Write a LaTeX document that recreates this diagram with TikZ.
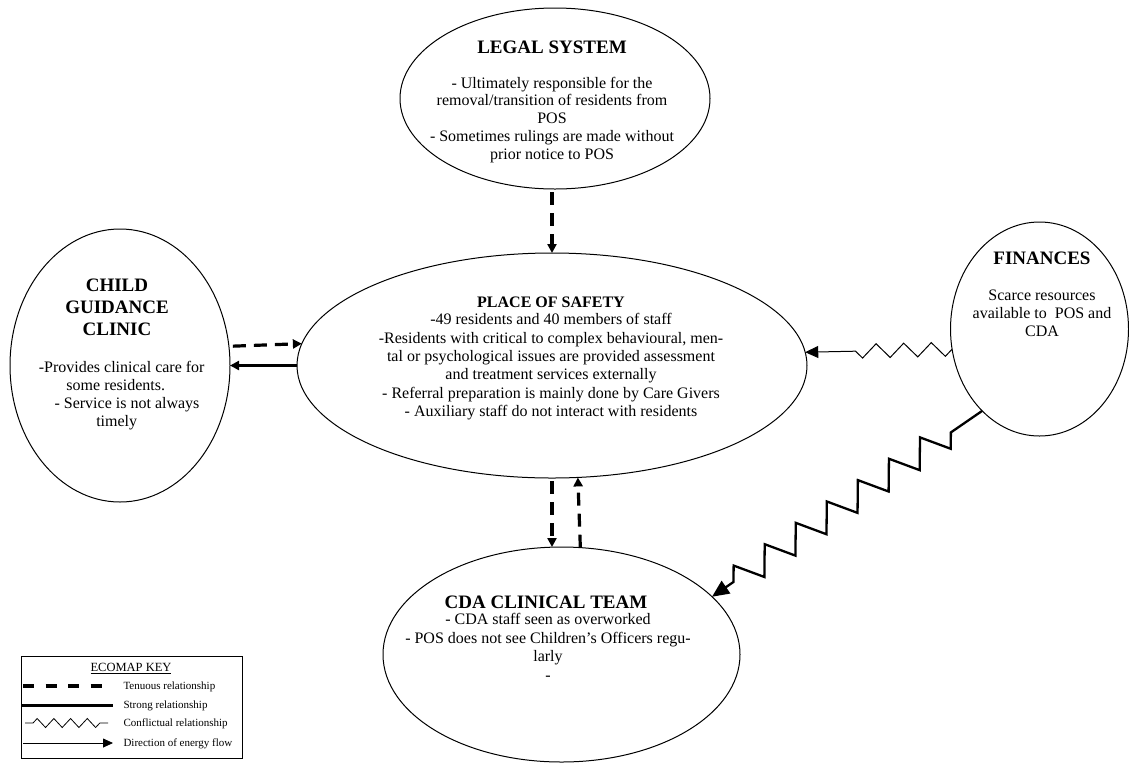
\documentclass[tikz,border=0pt]{standalone}
\usepackage{fontspec}
\setmainfont{Liberation Serif}
\usetikzlibrary{shapes.geometric,decorations.pathmorphing,arrows.meta}
\begin{document}
\begin{tikzpicture}[x=1pt,y=-1pt,
  ell/.style={draw, ellipse, line width=1pt, inner sep=0pt, outer sep=0pt},
  ttl/.style={font=\fontsize{19}{22.3}\selectfont\bfseries, inner sep=0pt, align=center},
  ttlsmall/.style={font=\fontsize{16}{18.4}\selectfont\bfseries, inner sep=0pt, align=center},
  body/.style={font=\fontsize{16}{18.3}\selectfont, inner sep=0pt, align=center},
  tenuous/.style={line width=3.2pt, dash pattern=on 13pt off 8pt, -{Triangle[length=9pt,width=9pt]}},
  strong/.style={line width=2.8pt, -{Triangle[length=9pt,width=9pt]}},
  confthin/.style={line width=1pt, decorate, decoration={zigzag, segment length=27.6pt, amplitude=7pt, pre=lineto, pre length=0pt, post=lineto, post length=37pt}, -{Triangle[length=13pt,width=12pt]}},
  confthick/.style={line width=2.3pt, decorate, decoration={zigzag, segment length=37.7pt, amplitude=13.4pt, pre=lineto, pre length=38pt, post=lineto, post length=25pt}, -{Triangle[length=17pt,width=15pt]}},
  keybox/.style={draw, line width=0.8pt, inner sep=0pt},
  keytext/.style={font=\fontsize{11}{13}\selectfont, inner sep=0pt, anchor=base west},
  keytenuous/.style={line width=3.5pt, dash pattern=on 11pt off 11.5pt},
  keystrong/.style={line width=3pt},
  keyconf/.style={line width=0.8pt, decorate, decoration={zigzag, segment length=16.7pt, amplitude=4.5pt, pre=lineto, pre length=8pt}},
  keyflow/.style={line width=0.8pt, -{Triangle[length=10pt,width=9pt]}}
]
\useasboundingbox (0,0) rectangle (1129,764);

% ellipses
\node[ell, minimum width=310pt, minimum height=181pt] (legal) at (555,98.5) {};
\node[ell, minimum width=510pt, minimum height=225pt] (pos) at (552,365.5) {};
\node[ell, minimum width=220pt, minimum height=273pt] (cgc) at (120,365.5) {};
\node[ell, minimum width=178pt, minimum height=214pt] (fin) at (1039.5,329) {};
\node[ell, minimum width=357pt, minimum height=215pt] (cda) at (561.5,654.5) {};

% texts (base anchor = baseline of the last line)
\node[ttl, anchor=base] (legalT) at (552,53) {LEGAL SYSTEM};
\node[body, anchor=base, font=\fontsize{16}{17.9}\selectfont] (legalB) at (552,159.6) {- Ultimately responsible for the\\removal/transition of residents from\\POS\\- Sometimes rulings are made without\\prior notice to POS};

\node[ttlsmall, anchor=base] (posT) at (551,307.6) {PLACE OF SAFETY};
\node[body, anchor=base, font=\fontsize{16}{18.4}\selectfont] (posB) at (551,416.6) {-49 residents and 40 members of staff\\-Residents with critical to complex behavioural, men-\\tal or psychological issues are provided assessment\\and treatment services externally\\- Referral preparation is mainly done by Care Givers\\- Auxiliary staff do not interact with residents};

\node[ttl, anchor=base] (cgcT) at (117,335.9) {CHILD\\GUIDANCE\\CLINIC};
\node[body, anchor=base] (cgcB) at (118,426.9) {\hspace*{7.4pt}-Provides clinical care for\\\hspace*{-4.4pt}some residents.\\\hspace*{18pt}- Service is not always\\\hspace*{-2.6pt}timely};

\node[ttl, anchor=base] (finT) at (1042,264.3) {FINANCES};
\node[body, anchor=base, font=\fontsize{16}{18}\selectfont] (finB) at (1042,336.3) {Scarce resources\\available to~ POS and\\CDA};

\node[ttl, anchor=base] (cdaT) at (546,608) {CDA CLINICAL TEAM};
\node[body, anchor=base, font=\fontsize{16}{18.5}\selectfont] (cdaB) at (548,680.1) {- CDA staff seen as overworked\\- POS does not see Children’s Officers regu-\\larly\\-};

% connectors
\draw[tenuous, shorten <=3pt] (legal.south -| pos.north) -- (pos.north);
\draw[tenuous, shorten <=4pt] (cgc.10.7) -- (pos.175.3);
\draw[strong] (pos.west) -- (cgc.east);
\draw[tenuous, shorten <=3pt] (pos.south) -- (pos.south |- cda.north);
\draw[tenuous] (cda.80.7) -- (pos.283.6);
\draw[confthin] (fin.193.5) -- (pos.3.5);
\draw[confthick] (fin.235) -- (cda.21);

% key
\node[keybox, minimum width=221pt, minimum height=102pt] (key) at (131.5,707) {};
\node[font=\fontsize{12.5}{14}\selectfont, inner sep=0pt, anchor=base] (keyT) at (131,671.5) {\underline{ECOMAP KEY}};
\coordinate (k1a) at (23,686); \coordinate (k1b) at (113,686);
\coordinate (k2a) at (22,705); \coordinate (k2b) at (113,705);
\coordinate (k3a) at (25,723); \coordinate (k3b) at (108,723);
\coordinate (k4a) at (23,743); \coordinate (k4b) at (113,743);
\draw[keytenuous] (k1a) -- (k1b);
\draw[keystrong] (k2a) -- (k2b);
\draw[keyconf] (k3a) -- (k3b);
\draw[keyflow] (k4a) -- (k4b);
\node[keytext] (kt1) at (123.3,689.7) {Tenuous relationship};
\node[keytext] (kt2) at (123.3,708.7) {Strong relationship};
\node[keytext] (kt3) at (123.3,726.7) {Conflictual relationship};
\node[keytext] (kt4) at (123.3,746.7) {Direction of energy flow};
\end{tikzpicture}
\end{document}
